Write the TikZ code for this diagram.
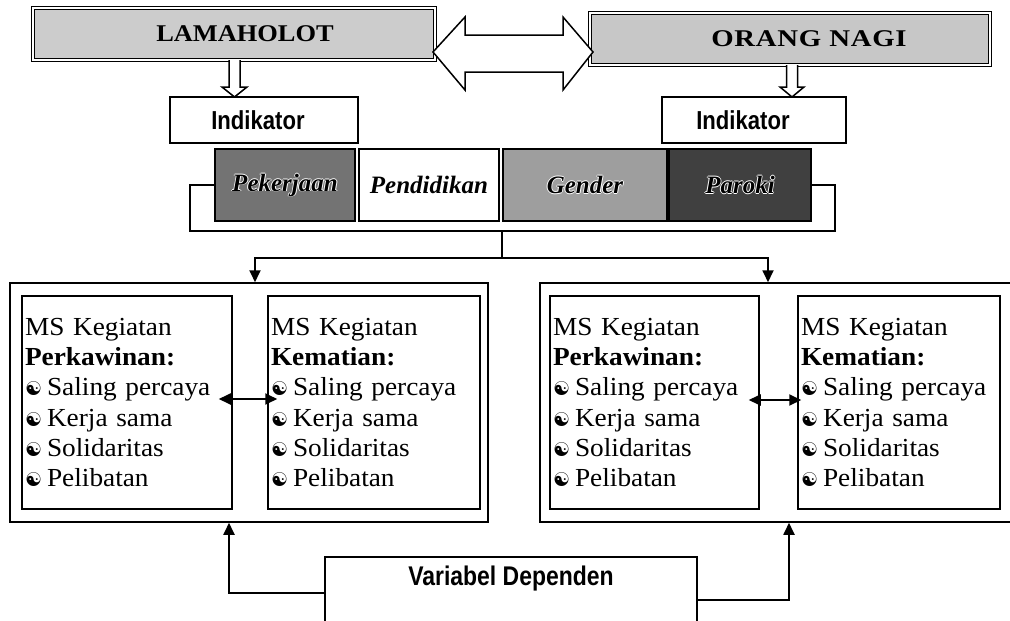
\documentclass[tikz,border=0pt]{standalone}
\usepackage{fontspec}
\setmainfont{Liberation Serif}
\newfontfamily\bodyf[FakeStretch=1.05]{Liberation Serif}
\newfontfamily\titlef[FakeStretch=1.1]{Liberation Serif}
\newfontfamily\titlewf[FakeStretch=1.2,LetterSpace=3]{Liberation Serif}
\newfontfamily\sansn[FakeStretch=0.85]{Liberation Sans}
\newfontfamily\symf{DejaVu Sans}
\usetikzlibrary{arrows.meta,calc}
\definecolor{stipA}{gray}{0.80}
\definecolor{stipB}{gray}{0.78}
\definecolor{pekfill}{gray}{0.45}
\definecolor{genfill}{gray}{0.62}
\definecolor{parfill}{gray}{0.25}
\newcommand{\bul}{{\symf\fontsize{19}{19}\selectfont ☯}\hspace{5pt}}
\newcommand{\halo}[1]{%
  \rlap{\color{white}\kern0.9pt #1}\rlap{\color{white}\kern-0.9pt #1}%
  \rlap{\color{white}\raisebox{0.9pt}{#1}}\rlap{\color{white}\raisebox{-0.9pt}{#1}}#1}
\tikzset{
  box/.style={draw, line width=1.5pt, inner sep=0pt},
  topbox/.style={draw, double, double distance=2pt, line width=1.2pt, inner sep=0pt,
     font=\titlef\bfseries\fontsize{24}{24}\selectfont},
  indbox/.style={box, minimum height=46pt, font=\sansn\bfseries\fontsize{26}{26}\selectfont},
  catbox/.style={box, minimum height=72pt, font=\bfseries\itshape\fontsize{25}{25}\selectfont},
  listbox/.style={box, minimum height=213pt, inner xsep=3pt, align=left,
     font=\bodyf\fontsize{26}{30.2}\selectfont},
  outerbox/.style={box, minimum height=239pt},
  conn/.style={line width=1.8pt},
  tip/.style={-{Triangle[length=12pt,width=11pt]}},
  dtip/.style={{Triangle[length=12pt,width=11pt]}-{Triangle[length=12pt,width=11pt]}},
  hollow/.style={draw, fill=white, line width=1.5pt, line join=miter}
}
\begin{document}
\begin{tikzpicture}[x=1pt,y=-1pt]
\useasboundingbox (0,0) rectangle (1010,621);
\fill[white] (0,0) rectangle (1010,621);
\clip (0,0) rectangle (1010,621);

% top boxes
\node[topbox, fill=stipA, minimum width=402pt, minimum height=52pt] (lam) at (234,34) {\hspace*{22pt}LAMAHOLOT};
\node[topbox, fill=stipB, minimum width=400pt, minimum height=52pt, font=\titlewf\bfseries\fontsize{24}{24}\selectfont] (nagi) at (790,39) {\hspace*{38pt}ORANG NAGI};

% big hollow double arrow
\draw[hollow] (433,52) -- (465,17) -- (465,35) -- (563,35) -- (563,17) -- (593,52)
  -- (563,90) -- (563,72) -- (465,72) -- (465,90) -- cycle;

% indikator boxes
\node[indbox, minimum width=188pt] (ind1) at (264,120) {Indikator\hspace*{12pt}};
\node[indbox, minimum width=184pt] (ind2) at (754,120) {Indikator\hspace*{22pt}};

% small hollow arrows
\draw[hollow] (229,60) -- (229,87) -- (222,87) -- (234.5,97) -- (247,87) -- (240,87) -- (240,60);
\draw[hollow] (786.5,65) -- (786.5,87) -- (780,87) -- (792,97) -- (804,87) -- (797.5,87) -- (797.5,65);

% category boxes
\node[catbox, fill=pekfill, minimum width=140pt] (pek) at (285,185) {\halo{Pekerjaan}};
\node[catbox, fill=white, minimum width=140pt] (pen) at (429,185) {Pendidikan};
\node[catbox, fill=genfill, minimum width=164pt] (gen) at (585,185) {\halo{Gender}};
\node[catbox, fill=parfill, minimum width=142pt] (par) at (740,185) {\halo{Paroki}};

% bracket
\coordinate (jl) at (190,231);
\coordinate (jr) at (835,231);
\coordinate (jm) at (502,231);
\coordinate (jd) at (502,258);
\draw[conn] (pek.west) -| (jl) -- (jr) |- (par.east);
\draw[conn] (jm) -- (jd);

% outer boxes
\node[outerbox, minimum width=478pt] (lo) at (249,402.5) {};
\node[outerbox, minimum width=473pt] (ro) at (776.5,402.5) {};

\draw[conn,tip] (jd) -| ([xshift=6pt]lo.north);
\draw[conn,tip] (jd) -| ([xshift=-8.5pt]ro.north);

% inner list boxes
\node[listbox, minimum width=210pt, text width=204pt] (l1) at (127,402.5)
 {MS Kegiatan\\\textbf{Perkawinan:}\\\bul Saling percaya\\\bul Kerja sama\\\bul Solidaritas\\\bul Pelibatan};
\node[listbox, minimum width=212pt, text width=206pt] (l2) at (374,402.5)
 {MS Kegiatan\\\textbf{Kematian:}\\\bul Saling percaya\\\bul Kerja sama\\\bul Solidaritas\\\bul Pelibatan};
\node[listbox, minimum width=209pt, text width=203pt] (r1) at (654.5,402.5)
 {MS Kegiatan\\\textbf{Perkawinan:}\\\bul Saling percaya\\\bul Kerja sama\\\bul Solidaritas\\\bul Pelibatan};
\node[listbox, minimum width=202pt, text width=196pt] (r2) at (899,402.5)
 {MS Kegiatan\\\textbf{Kematian:}\\\bul Saling percaya\\\bul Kerja sama\\\bul Solidaritas\\\bul Pelibatan};

\draw[conn,dtip] ([xshift=-14pt,yshift=3.5pt]l1.east) -- ([xshift=10pt,yshift=3.5pt]l2.west);
\draw[conn,dtip] ([xshift=-11pt,yshift=2.5pt]r1.east) -- ([xshift=4pt,yshift=2.5pt]r2.west);

% dependent variable box
\node[box, minimum width=372pt, inner ysep=0pt, text height=28pt, text depth=44pt,
  font=\sansn\bfseries\fontsize{27}{27}\selectfont] (var) at (511,593) {Variabel Dependen};

\draw[conn,tip] (var.west) -| ([xshift=-20pt]lo.south);
\draw[conn,tip] ([yshift=-7pt]var.east) -| ([xshift=12.5pt]ro.south);
\end{tikzpicture}
\end{document}
